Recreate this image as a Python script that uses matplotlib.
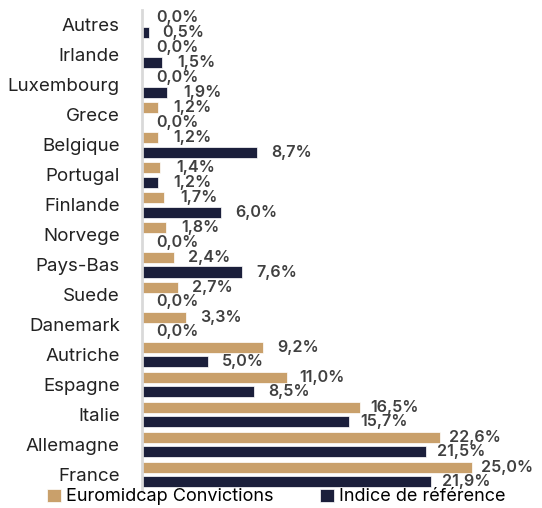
import matplotlib.pyplot as plt
import numpy as np

plt.rcParams["font.family"] = ["Inter", "DejaVu Sans"]

pays = ["Autres", "Irlande", "Luxembourg", "Grece", "Belgique", "Portugal",
        "Finlande", "Norvege", "Pays-Bas", "Suede", "Danemark", "Autriche",
        "Espagne", "Italie", "Allemagne", "France"]
fonds = [0.0, 0.0, 0.0, 1.2, 1.2, 1.4, 1.7, 1.8, 2.4, 2.7, 3.3, 9.2,
         11.0, 16.5, 22.6, 25.0]
indice = [0.5, 1.5, 1.9, 0.0, 8.7, 1.2, 6.0, 0.0, 7.6, 0.0, 0.0, 5.0,
          8.5, 15.7, 21.5, 21.9]

TAN = "#c9a06b"
NAVY = "#1b1f3b"

fig = plt.figure(figsize=(5.42, 5.08), dpi=100)
ax = fig.add_axes([142 / 542, 1 - 490 / 508, 1 - 142 / 542, 480 / 508])

y = np.arange(len(pays))
off = 0.245
h = 0.37
b1 = ax.barh(y - off, fonds, height=h, color=TAN, edgecolor="white",
             linewidth=0.5, label="Euromidcap Convictions")
b2 = ax.barh(y + off, indice, height=h, color=NAVY, edgecolor="white",
             linewidth=0.5, label="Indice de référence")


def fmt(v):
    return f"{v:.1f}%".replace(".", ",")


for yy, v in zip(y - off, fonds):
    ax.text(v + 2.65, yy, fmt(v), ha="center", va="center", fontsize=11.6,
            fontweight="semibold", color="#404040")
for yy, v in zip(y + off, indice):
    ax.text(v + 2.65, yy, fmt(v), ha="center", va="center", fontsize=11.6,
            fontweight="semibold", color="#404040")

ax.set_xlim(0, 400 / 13.2)
ax.set_ylim(15.52, -0.5)
ax.set_yticks(y)
ax.set_yticklabels(pays, fontsize=13.5, color="#222222")
ax.tick_params(axis="y", length=0, pad=16)
ax.set_xticks([])
for s in ["top", "right", "bottom"]:
    ax.spines[s].set_visible(False)
ax.spines["left"].set_color("#d9d9d9")
ax.spines["left"].set_linewidth(2)
ax.patch.set_alpha(0)

fig.legend(handles=[b1, b2], loc="lower center", ncol=2, frameon=False,
           bbox_to_anchor=(0.51, -0.027), fontsize=13, handlelength=0.75,
           handleheight=0.75, handletextpad=0.3, columnspacing=2.6)

fig.savefig("out.png", dpi=100)
